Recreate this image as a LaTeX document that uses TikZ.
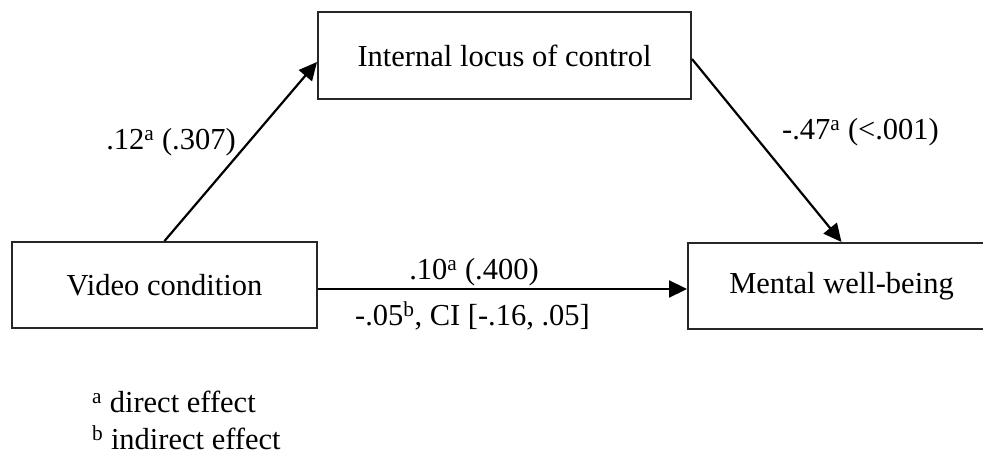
\documentclass[tikz,border=0pt]{standalone}
\usepackage{fontspec}
\setmainfont{Liberation Serif}
\usetikzlibrary{arrows.meta}
\begin{document}
\begin{tikzpicture}[x=1pt,y=-1pt,
  every node/.style={font=\fontsize{30.5}{36}\selectfont},
  box/.style={draw=black!85, line width=2pt, fill=white, inner sep=0pt},
  arr/.style={line width=2.2pt, -{Triangle[length=18pt,width=17pt]}},
  lbl/.style={inner sep=0pt}]
\useasboundingbox[fill=white] (0,0) rectangle (983,457);
\node[box, minimum width=373pt, minimum height=87pt] (ilc) at (504.5,55.5) {Internal locus of control};
\node[box, minimum width=305pt, minimum height=86pt] (vc) at (164.5,285) {Video condition};
\node[box, minimum width=307pt, minimum height=86pt] (mwb) at (841.5,286) {Mental well-being};
\draw[arr] (vc.north) -- ([yshift=-6.5pt]ilc.west);
\draw[arr] ([yshift=-3.5pt]ilc.east) -- (mwb.north);
\draw[arr] ([yshift=-4pt]vc.east) -- ([yshift=-4pt]vc.east -| mwb.west);
\node[lbl] (l1) at (171,142.5) {.12\textsuperscript{a} (.307)};
\node[lbl] (l2) at (860.5,132) {-.47\textsuperscript{a} (<.001)};
\node[lbl] (l3) at (474,272) {.10\textsuperscript{a} (.400)};
\node[lbl] (l4) at (472.5,316) {-.05\textsuperscript{b}, CI [-.16, .05]};
\node[lbl, anchor=west] (f1) at (92,402) {\textsuperscript{a} direct effect};
\node[lbl, anchor=west] (f2) at (92,438) {\textsuperscript{b} indirect effect};
\end{tikzpicture}
\end{document}
